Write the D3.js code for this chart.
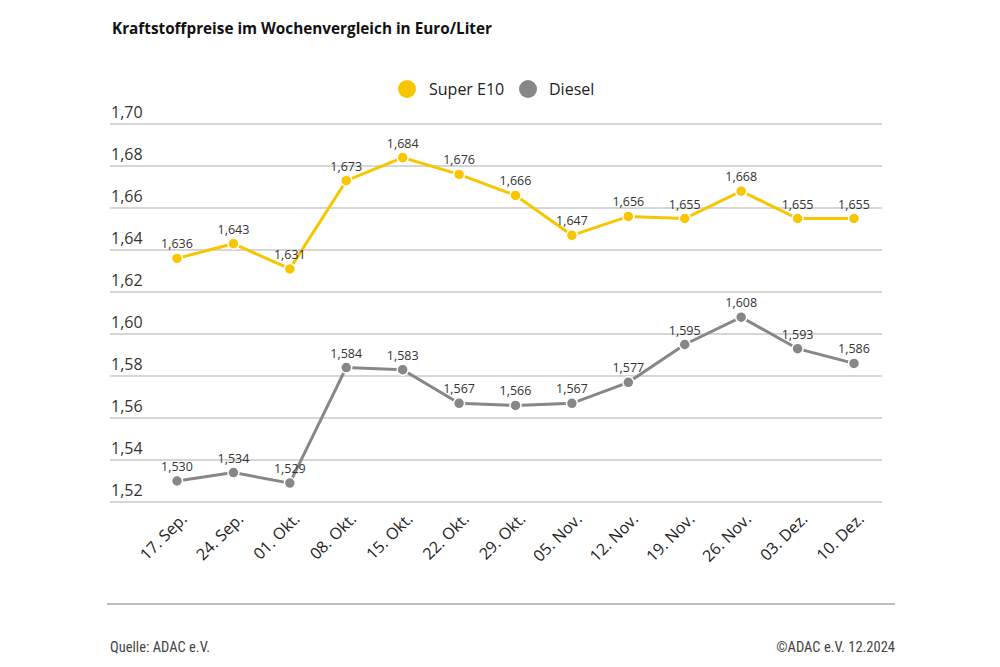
<!DOCTYPE html>
<html><head><meta charset="utf-8">
<script src="https://cdn.jsdelivr.net/npm/d3@7"></script>
<style>
body{margin:0;background:#fff;}
svg{display:block;font-family:"Open Sans","Noto Sans",sans-serif;}
</style></head>
<body><svg id="c" width="1000" height="667"></svg>
<script>
const categories = ["17. Sep.","24. Sep.","01. Okt.","08. Okt.","15. Okt.","22. Okt.","29. Okt.","05. Nov.","12. Nov.","19. Nov.","26. Nov.","03. Dez.","10. Dez."];
const superE10 = [1.636,1.643,1.631,1.673,1.684,1.676,1.666,1.647,1.656,1.655,1.668,1.655,1.655];
const diesel = [1.530,1.534,1.529,1.584,1.583,1.567,1.566,1.567,1.577,1.595,1.608,1.593,1.586];
const yTicks = [1.52,1.54,1.56,1.58,1.60,1.62,1.64,1.66,1.68,1.70];
const seriesNames = ["Super E10","Diesel"];
const colors = ["#F7C600","#878787"];

const svg = d3.select("#c");
const fmt = v => d3.format(".3f")(v).replace(".", ",");
const fmt2 = v => d3.format(".2f")(v).replace(".", ",");

const x = d3.scalePoint().domain(categories).range([177, 854]);
const y = d3.scaleLinear().domain([1.52, 1.70]).range([502, 124]);

// title
svg.append("text").attr("x",112).attr("y",34).attr("font-size",15.3).attr("font-weight",700)
  .attr("fill","#111").text("Kraftstoffpreise im Wochenvergleich in Euro/Liter");

// legend
const leg = [{x:407,tx:429},{x:528,tx:549}];
seriesNames.forEach((n,i)=>{
  svg.append("circle").attr("cx",leg[i].x).attr("cy",89).attr("r",9).attr("fill",colors[i]);
  svg.append("text").attr("x",leg[i].tx).attr("y",95).attr("font-size",16).attr("fill","#222").text(n);
});

// grid
const g = svg.append("g");
yTicks.forEach(t=>{
  g.append("line").attr("x1",110).attr("x2",882).attr("y1",y(t)).attr("y2",y(t))
    .attr("stroke","#c8c8c8").attr("stroke-width",1.5);
  g.append("text").attr("x",111).attr("y",y(t)-6).attr("font-size",16).attr("fill","#333").text(fmt2(t));
});

// x labels
categories.forEach(c=>{
  svg.append("text").attr("transform",`translate(${x(c)+11},${520}) rotate(-45)`)
    .attr("text-anchor","end").attr("font-size",16).attr("fill","#222").text(c);
});

// series
[superE10, diesel].forEach((vals,i)=>{
  const data = vals.map((v,j)=>({c:categories[j],v}));
  svg.append("path").datum(data).attr("fill","none").attr("stroke",colors[i]).attr("stroke-width",3)
    .attr("d", d3.line().x(d=>x(d.c)).y(d=>y(d.v)));
  svg.selectAll(null).data(data).enter().append("circle")
    .attr("cx",d=>x(d.c)).attr("cy",d=>y(d.v)).attr("r",5.5)
    .attr("fill",colors[i]).attr("stroke","#fff").attr("stroke-width",1.5);
  svg.selectAll(null).data(data).enter().append("text")
    .attr("x",d=>x(d.c)).attr("y",d=>y(d.v)-10).attr("text-anchor","middle")
    .attr("font-size",12.5).attr("fill","#333").text(d=>fmt(d.v));
});

// bottom line
svg.append("line").attr("x1",107).attr("x2",895).attr("y1",604).attr("y2",604).attr("stroke","#bdbdbd").attr("stroke-width",2);

// footer
svg.append("text").attr("x",110).attr("y",652).attr("font-size",14.5).attr("fill","#444")
  .attr("font-family","'Liberation Sans Narrow','Roboto Condensed',sans-serif").text("Quelle: ADAC e.V.");
svg.append("text").attr("x",895).attr("y",652).attr("text-anchor","end").attr("font-size",14.5).attr("fill","#444")
  .attr("font-family","'Liberation Sans Narrow','Roboto Condensed',sans-serif").text("©ADAC e.V. 12.2024");
</script></body></html>
